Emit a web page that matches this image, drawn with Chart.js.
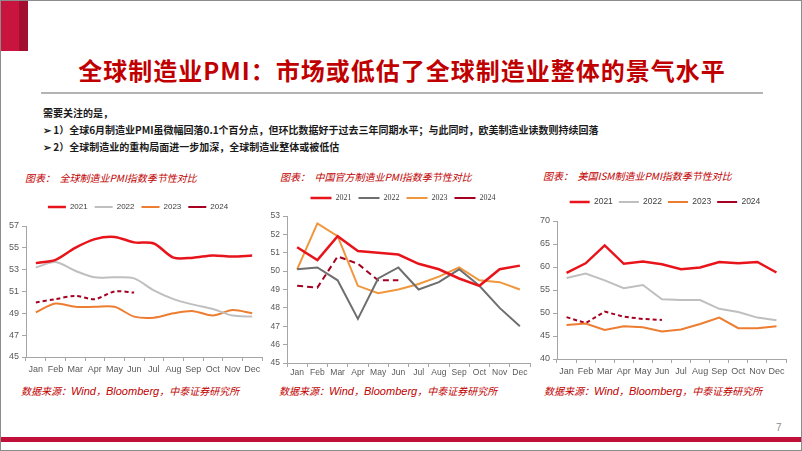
<!DOCTYPE html>
<html>
<head>
<meta charset="utf-8">
<script src="https://cdn.jsdelivr.net/npm/chart.js@4.4.0/dist/chart.umd.min.js"></script>
<style>
  html, body { margin: 0; padding: 0; background: #fff; }
  .slide { position: relative; width: 802px; height: 451px; overflow: hidden; box-sizing: border-box; border: 1px solid #8c8c8c; font-family: "Noto Sans CJK SC", "Liberation Sans", sans-serif; }
  .corner { position: absolute; left: 0; top: 0; width: 18px; height: 50px; background: #c8143f; }
  .corner2 { position: absolute; left: 18px; top: 0; width: 9px; height: 50px; background: #a30f2f; }
  .title { position: absolute; left: 0; top: 54px; width: 802px; text-align: center; font-size: 24px; line-height: 30px; font-weight: bold; color: #c00000; letter-spacing: 1px; }
  .rule { position: absolute; left: 40px; top: 91px; width: 722px; height: 2px; background: #b4b4b4; }
  .intro { position: absolute; left: 42px; font-size: 10px; line-height: 14px; font-weight: bold; color: #1a1a1a; white-space: pre; }
  .cap { position: absolute; font-size: 10px; line-height: 14px; font-style: italic; color: #c00000; white-space: pre; }
  .src { position: absolute; top: 383px; font-size: 10px; line-height: 14px; font-style: italic; color: #c00000; white-space: pre; }
  .src b { font-family: "Liberation Sans", sans-serif; font-weight: normal; font-size: 11px; }
  .page { position: absolute; left: 775px; top: 421px; font-size: 10px; color: #8c8c8c; font-family: "Liberation Sans", sans-serif; }
  .bar { position: absolute; left: 0; top: 436px; width: 802px; height: 5px; background: #c0103a; }
  canvas { position: absolute; }
</style>
</head>
<body>
<div class="slide">
  <div class="corner"></div><div class="corner2"></div>
  <div class="title">全球制造业PMI：市场或低估了全球制造业整体的景气水平</div>
  <div class="rule"></div>
  <div class="intro" style="top:105px">需要关注的是，</div>
  <div class="intro" style="top:122px">➢ 1）全球6月制造业PMI虽微幅回落0.1个百分点，但环比数据好于过去三年同期水平；与此同时，欧美制造业读数则持续回落</div>
  <div class="intro" style="top:139px">➢ 2）全球制造业的重构局面进一步加深，全球制造业整体或被低估</div>

  <div class="cap" style="left:24px;top:170px">图表：  全球制造业PMI指数季节性对比</div>
  <div class="cap" style="left:279px;top:169px">图表：  中国官方制造业PMI指数季节性对比</div>
  <div class="cap" style="left:542px;top:168px">图表：  美国ISM制造业PMI指数季节性对比</div>

  <canvas id="globalChart" width="268" height="192" style="left:0;top:190px"></canvas>
  <canvas id="chinaChart" width="270" height="202" style="left:266px;top:180px"></canvas>
  <canvas id="ismChart" width="268" height="195" style="left:532px;top:187px"></canvas>

  <div class="src" style="left:20px">数据来源：<b>Wind</b>，<b>Bloomberg</b>，中泰证券研究所</div>
  <div class="src" style="left:278px">数据来源：<b>Wind</b>，<b>Bloomberg</b>，中泰证券研究所</div>
  <div class="src" style="left:543px">数据来源：<b>Wind</b>，<b>Bloomberg</b>，中泰证券研究所</div>

  <div class="page">7</div>
  <div class="bar"></div>
</div>
<script>
// x axis categories (same for all three charts)
const months = ['Jan', 'Feb', 'Mar', 'Apr', 'May', 'Jun', 'Jul', 'Aug', 'Sep', 'Oct', 'Nov', 'Dec'];
const years = ['2021', '2022', '2023', '2024'];

// global manufacturing PMI
const global2021 = [53.6, 53.9, 55.0, 55.8, 56.0, 55.5, 55.4, 54.1, 54.1, 54.3, 54.2, 54.3];
const global2022 = [53.2, 53.7, 52.9, 52.3, 52.3, 52.2, 51.1, 50.3, 49.8, 49.4, 48.8, 48.7];
const global2023 = [49.1, 49.9, 49.6, 49.6, 49.6, 48.7, 48.6, 49.0, 49.2, 48.8, 49.3, 49.0];
const global2024 = [50.0, 50.3, 50.6, 50.3, 51.0, 50.9];

// China official manufacturing PMI
const china2021 = [51.3, 50.6, 51.9, 51.1, 51.0, 50.9, 50.4, 50.1, 49.6, 49.2, 50.1, 50.3];
const china2022 = [50.1, 50.2, 49.5, 47.4, 49.6, 50.2, 49.0, 49.4, 50.1, 49.2, 48.0, 47.0];
const china2023 = [50.1, 52.6, 51.9, 49.2, 48.8, 49.0, 49.3, 49.7, 50.2, 49.5, 49.4, 49.0];
const china2024 = [49.2, 49.1, 50.8, 50.4, 49.5, 49.5];

// US ISM manufacturing PMI
const ism2021 = [58.7, 60.8, 64.7, 60.7, 61.2, 60.6, 59.5, 59.9, 61.1, 60.8, 61.1, 58.8];
const ism2022 = [57.6, 58.6, 57.1, 55.4, 56.1, 53.0, 52.8, 52.8, 50.9, 50.2, 49.0, 48.4];
const ism2023 = [47.4, 47.7, 46.3, 47.1, 46.9, 46.0, 46.4, 47.6, 49.0, 46.7, 46.7, 47.1];
const ism2024 = [49.1, 47.8, 50.3, 49.2, 48.7, 48.5];

const axisGray = '#a6a6a6';
const tickGray = '#595959';

// nudges the legend sideways so it sits over the middle of the slide block
const shiftLegend = {
  id: 'shiftLegend',
  afterLayout(chart, args, opts) {
    chart.legend.left += opts.dx;
    chart.legend.right += opts.dx;
  }
};

function series(data, i, colors, tension) {
  return {
    label: years[i],
    data: data,
    borderColor: colors[i],
    backgroundColor: colors[i],
    borderWidth: i === 0 ? 2.5 : 2,
    borderDash: i === 3 ? colors.dash : [],
    pointRadius: 0,
    tension: tension,
    fill: false
  };
}

function makeChart(id, opt) {
  const ctx = document.getElementById(id).getContext('2d');
  return new Chart(ctx, {
    type: 'line',
    data: {
      labels: months,
      datasets: opt.data.map((d, i) => series(d, i, opt.colors, opt.tension))
    },
    plugins: [shiftLegend],
    options: {
      responsive: false,
      animation: false,
      layout: { padding: opt.padding },
      plugins: {
        tooltip: { enabled: false },
        shiftLegend: { dx: opt.legend.dx },
        legend: {
          display: true,
          position: 'top',
          labels: {
            usePointStyle: true,
            pointStyle: 'line',
            pointStyleWidth: opt.legend.lineLen,
            padding: opt.legend.gap,
            color: '#404040',
            font: opt.legend.font
          }
        },
        // empty subtitle used only as a gap between legend and plot
        subtitle: {
          display: true,
          text: '',
          weight: 100,
          font: { size: 1, lineHeight: 1 },
          padding: { top: 0, bottom: opt.spacer }
        }
      },
      scales: {
        x: {
          offset: true,
          grid: { offset: true, drawOnChartArea: false, tickLength: 4, color: axisGray },
          border: { color: axisGray },
          ticks: { color: tickGray, font: opt.tickFont, padding: opt.xPad, maxRotation: 0, autoSkip: false },
          afterFit: (s) => { s.height = opt.xHeight; }
        },
        y: {
          min: opt.min,
          max: opt.max,
          grid: { drawOnChartArea: false, tickLength: 4, color: axisGray },
          border: { color: axisGray },
          ticks: { stepSize: opt.step, color: tickGray, font: opt.tickFont, padding: 3 },
          afterFit: (s) => { s.width = opt.yWidth; }
        }
      }
    }
  });
}

const narrow = '"Liberation Sans Narrow", "Liberation Sans", Arial, sans-serif';

const colorsA = ['#e8141b', '#bfbfbf', '#ed7d31', '#a50021'];
colorsA.dash = [4, 3];
const colorsB = ['#e8141b', '#6e6e6e', '#f0963c', '#a50021'];
colorsB.dash = [6, 4];

makeChart('globalChart', {
  data: [global2021, global2022, global2023, global2024],
  colors: colorsA,
  tension: 0.3,
  min: 45, max: 57, step: 2,
  padding: { left: 0, right: 7, top: 5, bottom: 8 },
  legend: { lineLen: 18, gap: 7, dx: 6.5, font: { family: narrow, size: 8 } },
  spacer: 4,
  tickFont: { family: narrow, size: 9 },
  xPad: 3, xHeight: 18, yWidth: 25
});

makeChart('chinaChart', {
  data: [china2021, china2022, china2023, china2024],
  colors: colorsB,
  tension: 0,
  min: 45, max: 53, step: 1,
  padding: { left: 0, right: 7, top: 6, bottom: 4 },
  legend: { lineLen: 21, gap: 7, dx: 4.5, font: { family: '"Liberation Serif", serif', size: 8 } },
  spacer: 3,
  tickFont: { family: '"Liberation Sans", Arial, sans-serif', size: 8.5 },
  xPad: 1, xHeight: 16, yWidth: 20
});

makeChart('ismChart', {
  data: [ism2021, ism2022, ism2023, ism2024],
  colors: colorsA,
  tension: 0,
  min: 40, max: 70, step: 5,
  padding: { left: 0, right: 15, top: 3.75, bottom: 7 },
  legend: { lineLen: 20, gap: 6, dx: 5.5, font: { family: narrow, size: 8.5 } },
  spacer: 3.75,
  tickFont: { family: narrow, size: 9 },
  xPad: 3, xHeight: 17, yWidth: 24
});
</script>
</body>
</html>
